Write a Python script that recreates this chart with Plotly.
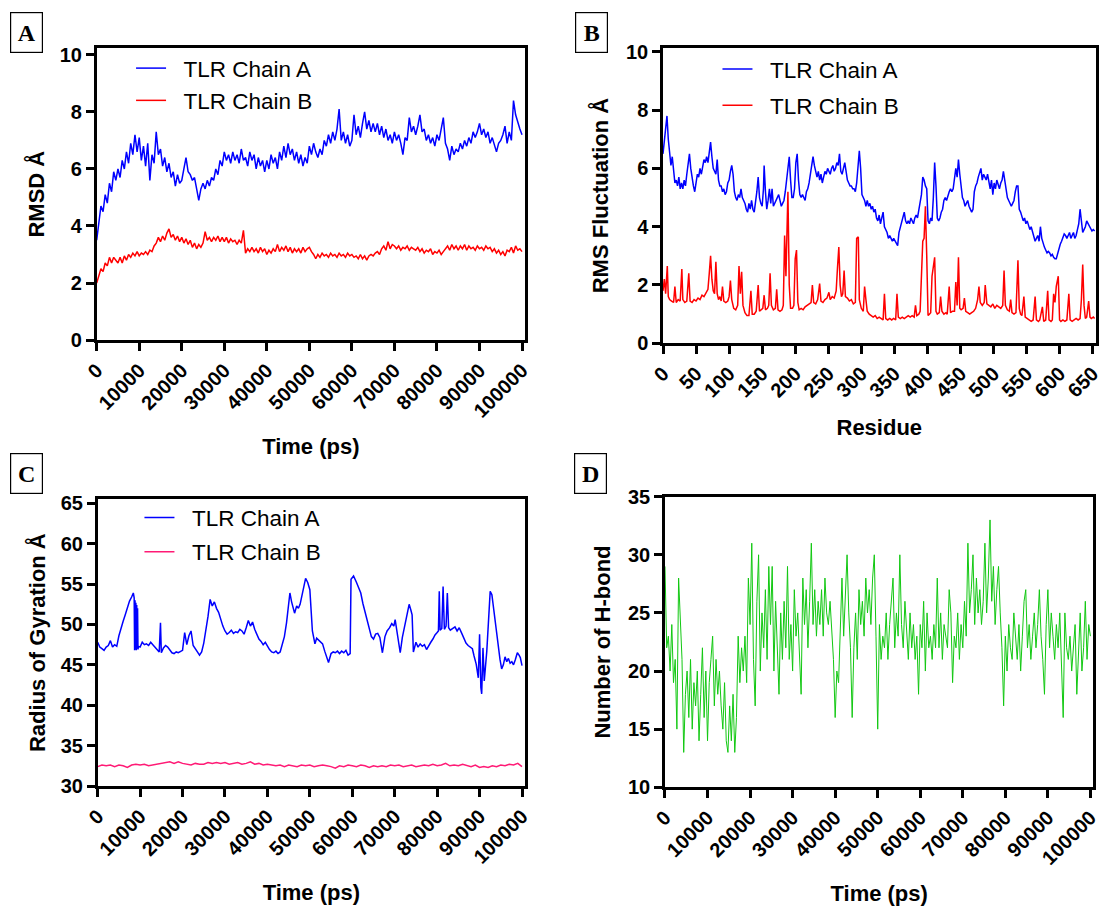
import plotly.graph_objects as go

SANS = "Liberation Sans, Arial, Helvetica, sans-serif"
SERIF = "Liberation Serif, Times New Roman, serif"

# ---------------- Panel A : RMSD (sampled every 500 ps) ----------------
rmsd_time = [i * 500 for i in range(201)]
rmsd_chain_a = [
    3.5, 4.1, 4.7, 4.5, 5.1, 4.8, 5.5, 5.2, 5.9, 5.6,
    6.0, 5.7, 6.3, 6.0, 6.6, 6.2, 6.9, 6.5, 7.2, 6.6,
    7.1, 6.3, 6.8, 6.1, 6.9, 5.6, 6.5, 6.2, 7.3, 6.5,
    6.7, 6.1, 6.4, 5.9, 6.2, 5.7, 5.9, 5.4, 5.8, 5.5,
    5.6, 6.0, 6.4, 5.9, 5.8, 5.6, 5.7, 5.3, 4.9, 5.3,
    5.5, 5.3, 5.6, 5.4, 5.7, 5.6, 6.0, 5.8, 6.3, 6.1,
    6.6, 6.3, 6.5, 6.2, 6.6, 6.3, 6.5, 6.2, 6.7, 6.3,
    6.4, 6.1, 6.6, 6.3, 6.5, 6.0, 6.4, 6.1, 6.3, 5.9,
    6.3, 6.0, 6.5, 6.2, 6.4, 6.0, 6.6, 6.3, 6.8, 6.4,
    6.9, 6.5, 6.7, 6.3, 6.6, 6.2, 6.5, 6.1, 6.4, 6.2,
    6.8, 6.5, 6.9, 6.6, 6.4, 6.7, 6.5, 7.0, 6.8, 7.2,
    6.9, 7.3, 7.0, 7.4, 8.1, 7.0, 7.3, 6.9, 7.2, 6.8,
    7.0, 7.9, 7.2, 7.5, 7.1, 7.6, 8.0, 7.4, 7.7, 7.3,
    7.6, 7.3, 7.6, 7.2, 7.5, 7.1, 7.4, 7.0, 7.2, 6.9,
    7.3, 7.0, 7.2, 6.9, 6.5, 7.1, 7.0, 7.8, 7.3, 7.5,
    7.2, 7.5, 7.9, 7.3, 7.4, 7.0, 7.2, 6.9, 7.1, 6.8,
    7.2, 7.0, 7.4, 7.8, 6.9, 6.7, 6.3, 6.8, 6.5, 6.7,
    6.6, 6.9, 6.7, 7.0, 6.8, 7.1, 6.9, 7.3, 7.1, 7.3,
    7.6, 7.2, 7.4, 7.1, 7.3, 6.9, 7.1, 6.8, 6.6, 6.9,
    7.0, 7.2, 7.5, 6.9, 7.3, 7.0, 8.4, 7.9, 7.6, 7.4, 7.2,
]
rmsd_chain_b = [
    2.0, 2.3, 2.5, 2.4, 2.7, 2.6, 2.9, 2.7, 2.9, 2.8,
    2.7, 2.9, 2.7, 2.95, 2.8, 3.0, 2.9, 3.05, 2.95, 3.1,
    2.95, 3.05, 3.0, 3.1, 3.0, 3.15, 3.1, 3.3, 3.4, 3.6,
    3.45, 3.65, 3.5, 3.75, 3.9, 3.6, 3.7, 3.5, 3.65, 3.45,
    3.6, 3.4, 3.55, 3.35, 3.5, 3.25, 3.4, 3.2, 3.35, 3.25,
    3.4, 3.8, 3.5, 3.6, 3.45, 3.6, 3.5, 3.65, 3.45, 3.6,
    3.45, 3.6, 3.4, 3.55, 3.45, 3.5, 3.35, 3.5, 3.4, 3.85,
    3.05, 3.2, 3.1, 3.25, 3.1, 3.2, 3.05, 3.25, 3.1, 3.2,
    3.0, 3.15, 3.05, 3.2, 3.1, 3.35, 3.1, 3.25, 3.15, 3.3,
    3.1, 3.25, 3.05, 3.2, 3.1, 3.2, 3.05, 3.25, 3.1, 3.2,
    3.25, 3.1, 3.0, 2.85, 3.0, 2.9, 3.05, 2.95, 3.0, 2.9,
    3.05, 2.95, 3.0, 2.9, 3.05, 2.95, 3.0, 2.9, 3.05, 2.95,
    3.0, 2.9, 2.95, 2.85, 3.0, 2.85, 2.95, 2.8, 2.95, 3.0,
    2.95, 3.05, 3.1, 3.0, 3.2, 3.3, 3.15, 3.45, 3.2, 3.35,
    3.3, 3.2, 3.3, 3.15, 3.25, 3.2, 3.3, 3.15, 3.25, 3.2,
    3.15, 3.25, 3.1, 3.2, 3.05, 3.15, 3.1, 3.2, 3.0, 3.1,
    3.05, 3.15, 3.0, 3.1, 3.2, 3.3, 3.15, 3.35, 3.2, 3.3,
    3.15, 3.3, 3.2, 3.35, 3.15, 3.3, 3.2, 3.25, 3.15, 3.3,
    3.2, 3.25, 3.15, 3.3, 3.2, 3.25, 3.1, 3.2, 3.05, 3.15,
    3.0, 3.1, 2.95, 3.15, 3.1, 3.25, 3.05, 3.3, 3.15, 3.2, 3.1,
]

# ---------------- Panel B : RMSF per residue ----------------
rmsf_chain_a_pts = [
    (0, 6.5), (2, 6.9), (4, 7.2), (6, 7.8), (8, 7.0), (10, 6.4), (12, 6.1), (14, 6.4), (16, 5.9),
    (18, 5.5), (20, 5.6), (22, 5.4), (24, 5.7), (26, 5.3), (28, 5.5), (30, 5.3), (32, 5.6), (34, 5.4),
    (36, 5.8), (38, 6.2), (40, 6.5), (42, 6.0), (44, 5.6), (46, 5.4), (48, 5.2), (50, 5.6), (52, 5.8),
    (54, 5.7), (56, 6.0), (58, 5.8), (60, 6.1), (62, 6.3), (64, 6.2), (66, 6.4), (68, 6.2), (70, 6.6),
    (72, 6.9), (74, 6.4), (76, 6.0), (78, 5.9), (80, 5.8), (82, 6.3), (84, 5.6), (86, 5.4), (88, 5.4),
    (90, 5.2), (92, 5.3), (94, 5.1), (96, 5.2), (98, 5.5), (100, 5.6), (102, 5.9), (104, 6.1), (106, 5.8),
    (108, 5.2), (110, 5.0), (112, 4.9), (114, 5.1), (116, 5.0), (118, 5.3), (120, 5.0), (122, 4.9),
    (124, 4.8), (126, 4.6), (128, 4.5), (130, 4.8), (132, 4.6), (134, 4.9), (136, 4.6), (138, 4.5),
    (140, 4.8), (142, 5.2), (144, 5.7), (146, 5.0), (148, 4.8), (150, 4.7), (152, 5.3), (153, 6.1),
    (155, 5.2), (157, 4.6), (159, 4.9), (161, 5.3), (163, 4.8), (165, 5.3), (167, 4.7), (169, 4.8),
    (171, 4.9), (173, 5.0), (175, 5.1), (177, 4.9), (179, 4.7), (181, 4.8), (183, 4.9), (185, 5.2),
    (187, 5.6), (189, 6.0), (191, 6.4), (193, 5.6), (195, 5.0), (197, 5.0), (199, 5.3), (201, 6.2),
    (203, 6.5), (205, 5.6), (207, 5.1), (209, 5.0), (211, 5.1), (213, 5.0), (215, 4.9), (217, 5.2),
    (219, 5.3), (221, 5.5), (223, 5.8), (225, 6.1), (227, 6.4), (229, 6.1), (231, 5.9), (233, 5.7),
    (235, 5.9), (237, 5.6), (239, 5.8), (241, 5.5), (243, 5.7), (245, 5.9), (247, 5.8), (249, 6.0),
    (251, 5.9), (253, 5.8), (255, 6.0), (257, 6.1), (259, 5.9), (261, 6.0), (263, 6.2), (265, 6.1),
    (267, 6.5), (269, 5.9), (271, 5.8), (273, 6.0), (275, 6.2), (277, 5.9), (279, 5.6), (281, 5.5),
    (283, 5.4), (285, 5.4), (287, 5.3), (289, 5.3), (291, 5.2), (293, 5.5), (295, 6.2), (297, 6.6),
    (299, 6.0), (301, 5.1), (303, 5.0), (305, 4.9), (307, 4.7), (309, 4.9), (311, 4.7), (313, 4.8),
    (315, 4.6), (317, 4.7), (319, 4.5), (321, 4.6), (323, 4.3), (325, 4.2), (327, 4.4), (329, 4.1),
    (331, 4.3), (333, 4.5), (335, 4.0), (337, 3.9), (339, 3.8), (341, 3.6), (343, 3.7), (345, 3.6),
    (347, 3.5), (349, 3.6), (351, 3.5), (353, 3.4), (355, 3.35), (357, 3.8), (359, 4.0), (361, 4.1),
    (363, 4.3), (365, 4.5), (367, 4.2), (369, 4.1), (371, 4.2), (373, 4.1), (375, 4.3), (377, 4.2),
    (379, 4.1), (381, 4.3), (383, 4.4), (385, 4.3), (387, 4.6), (389, 4.8), (391, 5.1), (393, 5.7),
    (395, 5.6), (397, 5.4), (399, 5.3), (401, 4.2), (403, 4.1), (405, 4.3), (407, 4.2), (409, 5.0),
    (411, 6.2), (413, 5.4), (415, 4.3), (417, 4.2), (419, 4.3), (421, 4.5), (423, 4.6), (425, 4.9),
    (427, 5.0), (429, 4.9), (431, 5.1), (433, 5.2), (435, 5.3), (437, 5.2), (439, 5.3), (441, 5.6),
    (443, 6.0), (445, 5.7), (447, 6.3), (449, 5.8), (451, 5.3), (453, 5.0), (455, 4.9), (457, 4.7),
    (459, 4.8), (461, 4.9), (463, 4.7), (465, 4.6), (467, 4.5), (469, 4.6), (471, 5.2), (473, 5.4),
    (475, 5.5), (477, 5.7), (479, 5.9), (481, 6.0), (483, 5.6), (485, 5.8), (487, 5.7), (489, 5.6),
    (491, 5.8), (493, 5.5), (495, 5.3), (497, 5.6), (499, 5.1), (501, 5.5), (503, 5.3), (505, 5.6),
    (507, 5.4), (509, 5.3), (511, 5.5), (513, 5.6), (515, 5.9), (517, 5.6), (519, 5.2), (521, 5.0),
    (523, 4.9), (525, 4.8), (527, 4.7), (529, 4.8), (531, 4.9), (533, 5.2), (535, 5.4), (537, 5.4),
    (539, 4.6), (541, 4.5), (543, 4.3), (545, 4.2), (547, 4.3), (549, 4.1), (551, 4.2), (553, 4.0),
    (555, 3.9), (557, 4.0), (559, 3.8), (561, 3.6), (563, 3.5), (565, 3.6), (567, 3.7), (569, 3.5),
    (571, 4.0), (573, 3.6), (575, 3.4), (577, 3.3), (579, 3.2), (581, 3.1), (583, 3.15), (585, 3.1),
    (587, 3.0), (589, 3.05), (591, 2.95), (593, 2.9), (595, 2.9), (597, 3.1), (599, 3.3), (601, 3.4),
    (603, 3.5), (605, 3.6), (607, 3.75), (609, 3.7), (611, 3.6), (613, 3.7), (615, 3.8), (617, 3.6),
    (619, 3.7), (621, 3.8), (623, 3.6), (625, 3.7), (627, 3.9), (629, 4.1), (631, 4.6), (633, 4.2),
    (635, 3.8), (637, 3.9), (639, 4.0), (641, 4.2), (643, 4.1), (645, 4.0), (647, 3.9), (649, 3.85),
    (651, 3.9), (653, 3.85),
]
rmsf_chain_b_pts = [
    (0, 1.8), (2, 2.2), (4, 1.7), (6.5, 2.65), (8, 1.6), (10, 1.5), (13, 1.45), (16, 1.4), (18, 1.95),
    (20, 1.4), (23, 1.5), (26, 1.45), (28.5, 2.55), (30, 1.5), (33, 1.4), (36, 1.45), (39, 2.4),
    (41, 1.45), (44, 1.4), (47, 1.5), (50, 1.45), (53, 1.55), (56, 1.5), (59, 1.65), (62, 1.6),
    (65, 1.75), (68, 1.85), (70, 2.4), (72, 3.0), (74, 2.2), (76, 1.8), (78, 1.7), (80, 2.8),
    (82, 1.7), (84, 1.5), (86, 1.6), (88, 1.45), (90, 1.95), (92, 1.45), (95, 1.4), (98, 1.45),
    (100, 1.6), (102, 2.15), (104, 1.5), (107, 1.2), (110, 1.15), (113, 1.3), (115, 2.65), (117, 1.7),
    (119, 2.45), (121, 1.3), (124, 1.05), (127, 0.95), (130, 0.95), (133, 1.8), (135, 1.0), (138, 1.0),
    (141, 1.1), (144, 2.0), (146, 1.1), (149, 1.15), (151, 1.2), (153, 1.65), (155, 1.15), (158, 1.2),
    (160, 1.3), (162, 2.4), (164, 1.3), (167, 1.15), (170, 1.2), (172, 1.85), (174, 1.15), (177, 1.1),
    (180, 1.15), (182, 1.3), (184, 3.7), (186, 2.3), (189, 5.2), (191, 2.0), (193, 1.2), (196, 1.2),
    (198, 1.3), (200, 2.9), (202, 3.2), (204, 1.4), (206, 1.15), (209, 1.2), (212, 1.15), (215, 1.25),
    (218, 1.3), (221, 1.35), (224, 1.4), (226, 2.0), (228, 1.4), (231, 1.35), (234, 1.5), (237, 2.05),
    (239, 1.45), (242, 1.4), (245, 1.5), (248, 1.55), (251, 1.75), (253, 1.5), (256, 1.6), (259, 1.55),
    (262, 1.8), (264, 2.6), (266, 3.3), (268, 2.0), (270, 1.6), (272, 1.7), (274, 2.5), (276, 1.6),
    (279, 1.55), (282, 1.45), (285, 1.5), (288, 1.35), (291, 1.4), (293, 3.6), (295.5, 3.65), (297, 1.5),
    (300, 1.2), (303, 1.1), (305, 1.95), (307, 1.5), (309, 1.1), (312, 1.0), (315, 0.95), (318, 0.9),
    (321, 0.95), (324, 0.85), (327, 0.9), (330, 0.85), (333, 0.8), (335, 1.7), (337, 0.85), (340, 0.8),
    (343, 0.85), (346, 0.8), (349, 0.85), (352, 0.8), (354, 1.7), (356, 0.9), (359, 0.85), (362, 0.9),
    (365, 0.85), (368, 0.9), (371, 0.95), (374, 0.9), (377, 0.95), (380, 0.9), (382, 1.3), (384, 0.95),
    (387, 1.0), (389, 1.1), (391, 2.5), (393, 3.5), (395, 3.6), (397, 4.7), (399, 3.0), (401, 0.95),
    (403, 1.0), (405, 1.05), (407, 2.3), (409, 2.7), (411, 2.95), (413, 1.1), (415, 1.0), (418, 1.05),
    (420, 1.6), (422, 1.1), (425, 1.0), (428, 1.05), (430, 1.0), (433, 1.95), (435, 1.05), (438, 1.1),
    (441, 1.1), (443, 2.1), (445, 1.3), (447, 2.95), (449, 1.2), (451, 1.15), (454, 1.2), (456, 1.55),
    (458, 1.1), (461, 1.05), (464, 1.0), (467, 1.05), (470, 1.1), (473, 1.2), (476, 1.5), (478, 1.95),
    (480, 1.4), (483, 1.3), (486, 1.4), (487.5, 2.0), (490, 1.35), (493, 1.3), (496, 1.25), (499, 1.35),
    (502, 1.2), (505, 1.3), (508, 1.25), (511, 1.2), (514, 1.3), (516, 2.5), (518, 1.3), (521, 1.15),
    (524, 1.1), (526, 1.5), (528, 1.05), (531, 1.0), (534, 1.05), (537, 2.85), (539, 1.2), (541, 1.0),
    (543, 0.95), (546, 1.6), (548, 0.9), (551, 0.85), (554, 0.8), (557, 0.75), (560, 0.8), (563, 1.6),
    (565, 0.8), (568, 0.75), (570, 0.8), (574, 1.25), (576, 0.75), (579, 0.8), (582, 1.8), (584, 0.8),
    (587, 0.75), (589, 0.8), (591, 1.7), (593, 1.4), (595, 1.95), (598, 2.3), (600, 0.8), (602, 0.75),
    (605, 0.8), (608, 0.75), (611, 0.8), (614, 1.7), (616, 0.8), (619, 0.75), (622, 0.8), (625, 0.85),
    (628, 0.8), (631, 0.85), (633, 1.5), (635, 2.7), (637, 1.3), (639, 0.85), (641, 0.9), (644, 1.45),
    (646, 0.9), (648, 0.85), (651, 0.9), (653, 0.85),
]

# ---------------- Panel C : radius of gyration ----------------
rg_chain_a_pts = [
    (0, 47.8), (500, 47.2), (1000, 47.0), (1500, 46.8), (2000, 47.2), (2500, 47.4), (3000, 48.0),
    (3500, 47.2), (4000, 47.5), (4500, 47.3), (5000, 48.6), (5500, 49.6), (6000, 50.4), (6500, 51.2),
    (7000, 52.1), (7500, 52.9), (8000, 53.4), (8400, 53.9), (8600, 53.3), (8700, 46.8), (8800, 53.0),
    (8900, 46.9), (9000, 52.7), (9100, 46.8), (9200, 52.4), (9300, 47.0), (9400, 52.0), (9500, 46.9),
    (9600, 47.3), (10000, 47.2), (10500, 47.8), (11000, 47.5), (11500, 47.6), (12000, 47.4),
    (12500, 47.8), (13000, 47.5), (13500, 47.2), (14000, 46.9), (14500, 46.6), (14800, 50.2),
    (15000, 46.5), (15500, 47.1), (16000, 47.4), (16500, 47.2), (17000, 46.8), (17500, 46.5),
    (18000, 46.4), (18500, 46.6), (19000, 46.5), (19500, 46.7), (20000, 46.8), (20500, 49.0),
    (21000, 47.5), (21500, 48.6), (22000, 49.2), (22500, 47.4), (23000, 46.9), (23500, 46.6),
    (24000, 46.2), (24500, 46.6), (25000, 47.7), (25500, 49.3), (26000, 51.0), (26500, 53.1),
    (27000, 52.3), (27500, 52.8), (28000, 52.0), (28500, 51.5), (29000, 50.6), (29500, 49.8),
    (30000, 49.2), (30500, 48.8), (31000, 49.0), (31500, 49.3), (32000, 48.9), (32500, 49.1),
    (33000, 49.0), (33500, 49.4), (34000, 49.2), (34500, 48.8), (35000, 49.6), (35500, 50.5),
    (36000, 49.8), (36500, 50.3), (37000, 49.4), (37500, 48.8), (38000, 48.2), (38500, 47.9),
    (39000, 47.5), (39500, 47.8), (40000, 47.3), (40500, 46.9), (41000, 46.6), (41500, 46.5),
    (42000, 46.7), (42500, 46.4), (43000, 46.6), (43500, 47.4), (44000, 48.5), (44500, 50.2),
    (45000, 53.0), (45300, 53.9), (45700, 52.8), (46000, 52.1), (46400, 51.4), (46900, 52.3),
    (47300, 52.0), (47700, 52.5), (48000, 53.2), (48500, 54.7), (49000, 55.7), (49500, 55.2),
    (50000, 54.3), (50600, 49.2), (51200, 47.6), (51600, 48.3), (52000, 48.1), (52500, 47.9),
    (53000, 47.6), (53500, 46.7), (54000, 46.0), (54400, 45.3), (55000, 46.4), (55500, 46.6),
    (56000, 46.5), (56500, 46.7), (57000, 46.4), (57500, 46.7), (58000, 46.5), (58500, 46.8),
    (59000, 46.2), (59500, 46.4), (59700, 55.6), (60300, 56.0), (61000, 55.2), (61500, 54.6),
    (62000, 53.9), (62500, 52.6), (63000, 51.6), (63500, 50.6), (64000, 49.3), (64500, 48.5),
    (65000, 48.2), (65500, 48.8), (66000, 48.9), (66500, 48.4), (67100, 46.5), (67700, 48.5),
    (68200, 49.2), (68800, 49.6), (69300, 50.1), (69800, 49.8), (70100, 50.6), (70500, 49.2),
    (71000, 47.6), (71300, 46.5), (71800, 48.4), (72300, 49.8), (72800, 50.9), (73400, 52.5),
    (73800, 51.8), (74100, 51.2), (74400, 46.6), (75000, 47.8), (75500, 47.2), (76000, 47.6),
    (76500, 47.3), (77000, 47.5), (77500, 46.9), (78000, 47.4), (78500, 47.8), (79000, 48.2),
    (79500, 48.7), (80000, 49.0), (80300, 49.2), (80500, 54.1), (80700, 49.3), (81100, 49.5),
    (81400, 54.7), (81700, 49.4), (82100, 49.8), (82400, 53.9), (82700, 49.6), (83100, 49.3),
    (83600, 49.5), (84200, 49.7), (84700, 49.2), (85200, 49.6), (85800, 48.9), (86300, 48.2),
    (86800, 47.7), (87300, 47.4), (87800, 47.2), (88300, 47.0), (88700, 46.1), (89200, 45.1),
    (89700, 43.4), (90000, 48.8), (90300, 42.2), (90500, 41.4), (90800, 47.1), (91100, 43.0),
    (91700, 46.7), (92100, 51.2), (92500, 54.1), (92900, 53.7), (93300, 52.0), (93700, 50.0),
    (94200, 47.9), (94800, 45.7), (95200, 44.5), (95600, 45.0), (96000, 46.0), (96400, 45.4),
    (96800, 45.8), (97200, 45.2), (97600, 45.4), (98000, 45.0), (98400, 45.6), (98900, 46.5),
    (99300, 46.2), (99600, 45.9), (100000, 44.9),
]
rg_time_b = [i * 1000 for i in range(101)]
rg_chain_b = [
    32.4, 32.6, 32.5, 32.6, 32.4, 32.6, 32.5, 32.3, 32.6, 32.7,
    32.6, 32.7, 32.5, 32.6, 32.7, 32.8, 32.9, 33.0, 32.8, 33.0,
    32.8, 32.7, 32.6, 32.8, 32.7, 32.7, 32.9, 32.8, 32.9, 32.8,
    32.9, 32.7, 32.8, 32.9, 32.7, 32.8, 33.0, 32.7, 32.8, 32.6,
    32.7, 32.6, 32.5, 32.6, 32.4, 32.6, 32.5, 32.4, 32.6, 32.5,
    32.6, 32.4, 32.5, 32.6, 32.5, 32.4, 32.2, 32.5, 32.4, 32.6,
    32.5, 32.4, 32.6, 32.5, 32.3, 32.5, 32.4, 32.5, 32.4, 32.6,
    32.5, 32.6, 32.4, 32.5, 32.6, 32.4, 32.5, 32.6, 32.5, 32.7,
    32.5, 32.6, 32.8, 32.5, 32.6, 32.5, 32.7, 32.5, 32.4, 32.6,
    32.3, 32.4, 32.3, 32.5, 32.4, 32.6, 32.5, 32.7, 32.6, 32.8,
    32.4,
]

# ---------------- Panel D : number of H-bonds (every 400 ps) ----------------
hb_time = [i * 400 for i in range(251)]
hb_count = [
    29, 22, 23, 20, 24, 19, 21, 15, 28, 25,
    21, 13, 18, 20, 16, 21, 15, 19, 17, 20,
    14, 18, 22, 16, 20, 14, 19, 21, 23, 17,
    21, 18, 20, 17, 15, 19, 14, 13, 17, 14,
    18, 13, 16, 23, 19, 22, 20, 23, 19, 28,
    24, 31, 21, 17, 26, 30, 20, 25, 22, 27,
    21, 29, 24, 29, 20, 26, 22, 18, 25, 21,
    26, 22, 29, 21, 24, 20, 27, 23, 25, 22,
    18, 28, 24, 27, 22, 26, 31, 24, 27, 23,
    26, 24, 27, 23, 28, 25, 24, 26, 23, 21,
    16, 20, 19, 24, 28, 23, 27, 30, 25, 22,
    16, 22, 25, 21, 27, 24, 26, 23, 28, 25,
    27, 24, 28, 30, 23, 15, 24, 21, 23, 22,
    25, 21, 24, 26, 28, 22, 25, 23, 30, 24,
    22, 26, 23, 21, 25, 22, 24, 21, 23, 18,
    24, 22, 26, 20, 25, 22, 23, 21, 24, 22,
    28, 22, 25, 21, 24, 23, 22, 27, 25, 19,
    23, 22, 25, 21, 24, 22, 26, 23, 31, 25,
    27, 30, 24, 28, 25, 27, 24, 26, 31, 25,
    28, 33, 26, 29, 24, 27, 29, 25, 22, 17,
    23, 20, 24, 22, 21, 25, 23, 21, 24, 20,
    23, 26, 27, 22, 24, 21, 23, 25, 22, 24,
    27, 23, 21, 18, 24, 27, 22, 25, 23, 21,
    24, 22, 25, 20, 16, 25, 22, 21, 23, 20,
    22, 24, 18, 21, 25, 20, 22, 26, 21, 24, 23,
]

BLUE = "#0000FF"
RED = "#FF0000"
PINK = "#FF1A75"
GREEN = "#12C812"
NB = "\u00a0\u00a0"

fig = go.Figure()

fig.add_trace(go.Scatter(x=rmsd_time, y=rmsd_chain_a, mode="lines", name=NB + "TLR Chain A",
                         line=dict(color=BLUE, width=1.5), legend="legend", legendgroup="a1",
                         xaxis="x", yaxis="y"))
fig.add_trace(go.Scatter(x=rmsd_time, y=rmsd_chain_b, mode="lines", name=NB + "TLR Chain B",
                         line=dict(color=RED, width=1.5), legend="legend", legendgroup="a2",
                         xaxis="x", yaxis="y"))

fig.add_trace(go.Scatter(x=[p[0] for p in rmsf_chain_a_pts], y=[p[1] for p in rmsf_chain_a_pts],
                         mode="lines", name=NB + "TLR Chain A", line=dict(color=BLUE, width=1.5),
                         legend="legend2", legendgroup="b1", xaxis="x2", yaxis="y2"))
fig.add_trace(go.Scatter(x=[p[0] for p in rmsf_chain_b_pts], y=[p[1] for p in rmsf_chain_b_pts],
                         mode="lines", name=NB + "TLR Chain B", line=dict(color=RED, width=1.5),
                         legend="legend2", legendgroup="b2", xaxis="x2", yaxis="y2"))

fig.add_trace(go.Scatter(x=[p[0] for p in rg_chain_a_pts], y=[p[1] for p in rg_chain_a_pts],
                         mode="lines", name=NB + "TLR Chain A", line=dict(color=BLUE, width=1.5),
                         legend="legend3", legendgroup="c1", xaxis="x3", yaxis="y3"))
fig.add_trace(go.Scatter(x=rg_time_b, y=rg_chain_b, mode="lines", name=NB + "TLR Chain B",
                         line=dict(color=PINK, width=1.5), legend="legend3", legendgroup="c2",
                         xaxis="x3", yaxis="y3"))

fig.add_trace(go.Scatter(x=hb_time, y=hb_count, mode="lines", name="H-bond",
                         line=dict(color=GREEN, width=1), showlegend=False,
                         xaxis="x4", yaxis="y4"))

tickfont = dict(family=SANS, size=20, color="black", weight="bold")
titlefont = dict(family=SANS, size=22, color="black", weight="bold")


def ax(**kw):
    base = dict(showline=True, linecolor="black", linewidth=2.5, mirror=True,
                ticks="outside", ticklen=8, tickwidth=2.5, tickcolor="black",
                showgrid=False, zeroline=False, tickfont=tickfont, automargin=False,
                ticklabeloverflow="allow")
    base.update(kw)
    return base


xt = dict(tickmode="linear", tick0=0, dtick=10000, tickangle=-45, tickformat="d")

fig.update_layout(
    width=1105, height=907, template="none",
    paper_bgcolor="white", plot_bgcolor="white",
    margin=dict(l=0, r=0, t=0, b=0),
    xaxis=ax(domain=[0.0875, 0.4751], range=[0, 100700], anchor="y",
             title=dict(text="Time (ps)", font=titlefont, standoff=18), **xt),
    yaxis=ax(domain=[0.6251, 0.9467], range=[0, 10.23], anchor="x", dtick=2, tick0=0,
             title=dict(text="RMSD Å", font=titlefont, standoff=9)),
    xaxis2=ax(domain=[0.6000, 0.9915], range=[0, 654.5], anchor="y2",
              tickmode="linear", tick0=0, dtick=50, tickangle=-45,
              title=dict(text="Residue", font=titlefont, standoff=20)),
    yaxis2=ax(domain=[0.6215, 0.9474], range=[0, 10.14], anchor="x2", dtick=2, tick0=0,
              title=dict(text="RMS Fluctuation Å", font=titlefont, standoff=12)),
    xaxis3=ax(domain=[0.0884, 0.4751], range=[0, 100700], anchor="y3",
              title=dict(text="Time (ps)", font=titlefont, standoff=18), **xt),
    yaxis3=ax(domain=[0.1334, 0.4495], range=[30, 65.5], anchor="x3", dtick=5, tick0=30,
              title=dict(text="Radius of Gyration Å", font=titlefont, standoff=9)),
    xaxis4=ax(domain=[0.6018, 0.9895], range=[0, 100700], anchor="y4",
              title=dict(text="Time (ps)", font=titlefont, standoff=18), **xt),
    yaxis4=ax(domain=[0.1320, 0.4524], range=[10, 35], anchor="x4", dtick=5, tick0=10,
              title=dict(text="Number of H-bond", font=titlefont, standoff=12)),
    legend=dict(x=0.1186, y=0.9482, xanchor="left", yanchor="top", bgcolor="rgba(0,0,0,0)",
                font=dict(family=SANS, size=22.5, color="black"), tracegroupgap=0, itemwidth=30),
    legend2=dict(x=0.6493, y=0.9471, xanchor="left", yanchor="top", bgcolor="rgba(0,0,0,0)",
                 font=dict(family=SANS, size=22.5, color="black"), tracegroupgap=4, itemwidth=30),
    legend3=dict(x=0.1262, y=0.4528, xanchor="left", yanchor="top", bgcolor="rgba(0,0,0,0)",
                 font=dict(family=SANS, size=22.5, color="black"), tracegroupgap=2, itemwidth=30),
    showlegend=True,
)

letters = [("A", 0.024, 0.9642), ("B", 0.5357, 0.9638), ("C", 0.024, 0.478), ("D", 0.534, 0.4774)]
for txt, lx, ly in letters:
    fig.add_annotation(text=txt, x=lx, y=ly, xref="paper", yref="paper", showarrow=False,
                       xanchor="center", yanchor="middle", width=31, height=39,
                       bordercolor="black", borderwidth=1.2, borderpad=0,
                       font=dict(family=SERIF, size=24, color="black", weight="bold"))

fig.write_html("out.html", config={"displayModeBar": False},
               post_script="document.body.style.margin='0';document.body.style.padding='0';")
